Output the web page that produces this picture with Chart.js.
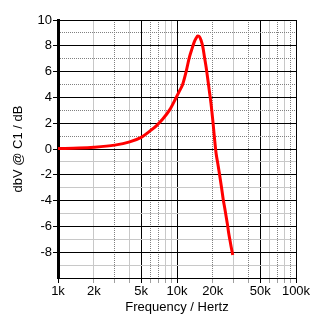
<!DOCTYPE html>
<html>
<head>
<meta charset="utf-8">
<script src="https://cdn.jsdelivr.net/npm/chart.js@4/dist/chart.umd.min.js"></script>
<style>
html,body{margin:0;padding:0;background:#fff;}
#wrap{width:330px;height:334px;}
</style>
</head>
<body>
<div id="wrap"><canvas id="c" width="330" height="334"></canvas></div>
<script>
// ---- data ----
const freqHz = [1000,1500,2000,3000,4000,5000,5840,6700,7560,8700,9800,10500,11150,11900,12700,13400,14000,14500,14900,15400,15900,16500,17000,17600,18100,18700,19300,20000,20600,21300,22000,22700,23600,24500,25200,25900,26600,27200,27900,28500,29400];
const dbv    = [0.03,0.07,0.13,0.3,0.55,0.9,1.35,1.8,2.3,3.05,3.95,4.5,5.0,5.95,7.1,7.8,8.32,8.6,8.76,8.72,8.45,7.9,7.15,6.3,5.48,4.5,3.54,2.2,0.95,-0.33,-1.1,-1.88,-2.9,-3.95,-4.6,-5.25,-5.9,-6.53,-7.1,-7.57,-8.22];
const xGridValues = [1000,2000,3000,4000,5000,6000,7000,8000,9000,10000,20000,30000,40000,50000,60000,70000,80000,90000,100000];
const xLabelValues = [1000,2000,5000,10000,20000,50000,100000];
const xLabelTexts  = ['1k','2k','5k','10k','20k','50k','100k'];
const yGridValues = [-10,-9,-8,-7,-6,-5,-4,-3,-2,-1,0,1,2,3,4,5,6,7,8,9,10];
const yLabelValues = [10,8,6,4,2,0,-2,-4,-6,-8];
const yLabelTexts  = ['10','8','6','4','2','0','-2','-4','-6','-8'];

// ---- styles ----
const xMajor = new Set([1000,5000,10000,50000,100000]);
const xDotted = new Set([3000,6000,7000,20000,40000,70000,90000]);
const FONT = {family:'"Liberation Sans", Arial, sans-serif', size:13};

function xColor(v){ return xMajor.has(v) ? '#000' : (xDotted.has(v) ? '#808080' : '#c8c8c8'); }
function yIsMajor(v){ return Math.round(v) % 2 === 0; }
function yColor(v){ if (yIsMajor(v)) return '#000'; return v > 0 ? '#808080' : '#c8c8c8'; }

const points = freqHz.map((f,i)=>({x:f, y:dbv[i]}));

new Chart(document.getElementById('c'), {
  type: 'line',
  data: { datasets: [{
    data: points,
    borderColor: '#ff0000',
    borderWidth: 3,
    pointRadius: 0,
    cubicInterpolationMode: 'monotone',
    fill: false
  }]},
  options: {
    responsive: false,
    animation: false,
    devicePixelRatio: 1,
    layout: { padding: { left: 0, right: 34, top: 20, bottom: 0 } },
    plugins: { legend: {display:false}, tooltip: {enabled:false} },
    scales: {
      x: {
        type: 'logarithmic',
        min: 1000, max: 100000,
        afterBuildTicks: s => { s.ticks = xGridValues.map(v=>({value:v})); },
        afterFit: s => { s.height = 56; },
        ticks: {
          autoSkip: false, maxRotation: 0, minRotation: 0, padding: 1,
          color: '#000', font: FONT,
          callback: (v) => { const i = xLabelValues.indexOf(v); return i >= 0 ? xLabelTexts[i] : ''; }
        },
        grid: {
          color: c => xColor(c.tick.value),
          lineWidth: 1,
          tickLength: 5,
          tickColor: c => xMajor.has(c.tick.value) ? '#000' : '#a0a0a0'
        },
        border: {
          display: true, color: '#000', width: 1,
          dash: c => (c.tick && xDotted.has(c.tick.value)) ? [1,1] : []
        },
        title: { display: true, text: 'Frequency / Hertz', color: '#000', font: FONT, padding: {top:0, bottom: 19} }
      },
      y: {
        type: 'linear',
        min: -10, max: 10,
        afterBuildTicks: s => { s.ticks = yGridValues.map(v=>({value:v})); },
        afterFit: s => { s.width = 58; },
        ticks: {
          autoSkip: false, padding: 1, color: '#000', font: FONT,
          callback: (v) => { const i = yLabelValues.indexOf(v); return i >= 0 ? yLabelTexts[i] : ''; }
        },
        grid: {
          color: c => yColor(c.tick.value),
          lineWidth: 1,
          tickLength: 5,
          tickColor: c => (yIsMajor(c.tick.value) && c.tick.value > -10) ? '#000' : 'rgba(0,0,0,0)'
        },
        border: {
          display: true, color: '#000', width: 3,
          dash: c => (c.tick && !yIsMajor(c.tick.value) && c.tick.value > 0) ? [1,1] : []
        },
        title: { display: true, text: 'dbV @ C1 / dB', color: '#000', font: FONT, padding: {top: 11, bottom: 0} }
      }
    }
  }
});
</script>
</body>
</html>
